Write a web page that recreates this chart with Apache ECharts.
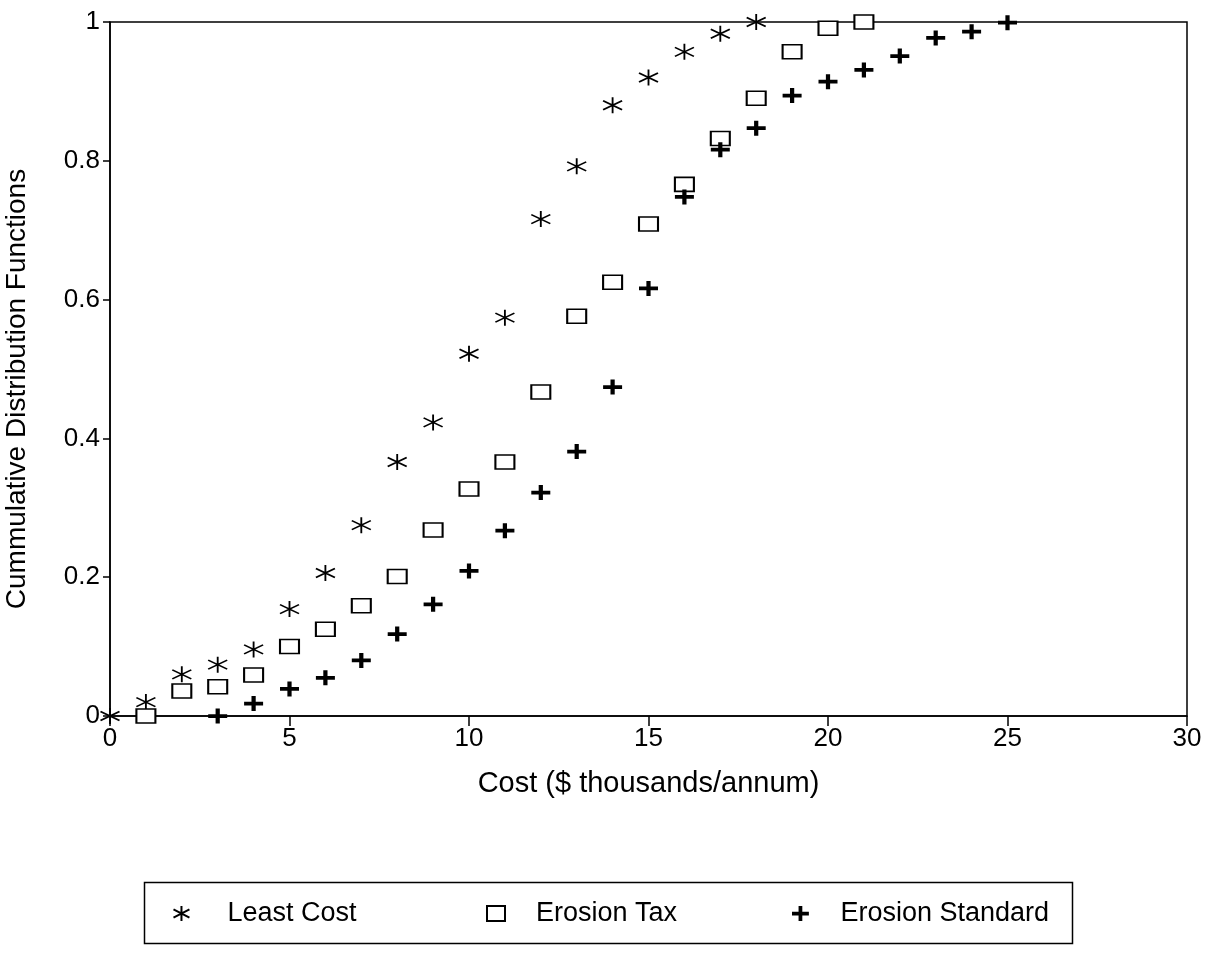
<!DOCTYPE html>
<html>
<head>
<meta charset="utf-8">
<script src="https://cdn.jsdelivr.net/npm/echarts@6/dist/echarts.min.js"></script>
<style>
html,body{margin:0;padding:0;background:#fff;}
#chart{width:1212px;height:953px;}
</style>
</head>
<body>
<div id="chart"></div>
<script>
// ---- data ----
var leastCostX = [0,1,2,3,4,5,6,7,8,9,10,11,12,13,14,15,16,17,18];
var leastCostY = [0,0.020,0.060,0.074,0.096,0.154,0.206,0.275,0.366,0.423,0.522,0.574,0.716,0.792,0.880,0.920,0.957,0.983,1.000];

var erosionTaxX = [1,2,3,4,5,6,7,8,9,10,11,12,13,14,15,16,17,18,19,20,21];
var erosionTaxY = [0,0.036,0.042,0.059,0.100,0.125,0.159,0.201,0.268,0.327,0.366,0.467,0.576,0.625,0.709,0.766,0.832,0.890,0.957,0.991,1.000];

var erosionStdX = [3,4,5,6,7,8,9,10,11,12,13,14,15,16,17,18,19,20,21,22,23,24,25];
var erosionStdY = [0,0.018,0.039,0.055,0.080,0.118,0.161,0.209,0.267,0.322,0.381,0.474,0.616,0.748,0.816,0.847,0.894,0.914,0.931,0.951,0.977,0.986,0.999];

var seriesNames = ['Least Cost','Erosion Tax','Erosion Standard'];
var xTicks = [0,5,10,15,20,25,30];
var yTicks = [0,0.2,0.4,0.6,0.8,1];

function pairs(xs, ys){ return xs.map(function(x,i){ return [x, ys[i]]; }); }

var FONT = 'Liberation Sans';
var TICK_FS = 26;
var NAME_FS = 29;
var LEG_FS = 27;

var asteriskPath = 'path://M9 0 L9 16 M0.5 3.5 L17.5 12.5 M0.5 12.5 L17.5 3.5';
var plusPath = 'path://M0 6 L7 6 L7 0 L11 0 L11 6 L18 6 L18 10 L11 10 L11 16 L7 16 L7 10 L0 10 Z';

var chart = echarts.init(document.getElementById('chart'), null, {renderer:'canvas'});
function legendAt(left, name, padLeft){
  return {
    left: left, top: 895, itemWidth: 18, itemHeight: 15,
    data: [name], selectedMode: false,
    textStyle: {fontFamily: FONT, fontSize: LEG_FS, color: '#000', padding: [0,0,0,padLeft]}
  };
}
chart.setOption({
  animation: false,
  backgroundColor: '#fff',
  grid: {left: 110, top: 22, width: 1077, height: 694, containLabel: false, outerBoundsMode: 'none',
    show: true, borderColor: '#000', borderWidth: 1.5, backgroundColor: 'transparent'},
  xAxis: {
    type: 'value', min: 0, max: 30, interval: 5,
    name: 'Cost ($ thousands/annum)', nameLocation: 'middle', nameGap: 53,
    nameTextStyle: {fontFamily: FONT, fontSize: NAME_FS, color: '#000'},
    axisLine: {show: true, onZero: false, lineStyle: {color: '#000', width: 1.5}},
    axisTick: {show: true, inside: false, length: 10, lineStyle: {color: '#000', width: 1.5}},
    axisLabel: {fontFamily: FONT, fontSize: TICK_FS, color: '#000', margin: 10,
      customValues: xTicks},
    splitLine: {show: false}
  },
  yAxis: {
    type: 'value', min: 0, max: 1, interval: 0.2,
    name: 'Cummulative Distribution Functions', nameLocation: 'middle', nameGap: 79,
    nameTextStyle: {fontFamily: FONT, fontSize: 28, color: '#000', padding: [0, 40, 0, 0]},
    axisLine: {show: true, onZero: false, lineStyle: {color: '#000', width: 1.5}},
    axisTick: {show: true, inside: false, length: 7, lineStyle: {color: '#000', width: 1.5}},
    axisLabel: {fontFamily: FONT, fontSize: TICK_FS, color: '#000', margin: 10,
      formatter: function(v){ return String(Math.round(v*10)/10); }},
    splitLine: {show: false}
  },
  legend: [
    legendAt(166, seriesNames[0], 32),
    legendAt(481, seriesNames[1], 26),
    legendAt(787, seriesNames[2], 26)
  ],
  graphic: [{
    type: 'rect', left: 142, top: 880, silent: true,
    shape: {width: 928, height: 61},
    style: {fill: 'none', stroke: '#000', lineWidth: 1.5}
  }],
  series: [
    {
      name: seriesNames[0], type: 'scatter', data: pairs(leastCostX, leastCostY),
      symbol: asteriskPath, symbolSize: [19, 16],
      itemStyle: {color: 'none', borderColor: '#000', borderWidth: 1.7, opacity: 1}
    },
    {
      name: seriesNames[1], type: 'scatter', data: pairs(erosionTaxX, erosionTaxY),
      symbol: 'rect', symbolSize: [19, 14],
      itemStyle: {color: '#fff', borderColor: '#000', borderWidth: 1.8, opacity: 1}
    },
    {
      name: seriesNames[2], type: 'scatter', data: pairs(erosionStdX, erosionStdY),
      symbol: plusPath, symbolSize: [19, 15],
      itemStyle: {color: '#000', borderWidth: 0, opacity: 1}
    }
  ]
});
</script>
</body>
</html>
